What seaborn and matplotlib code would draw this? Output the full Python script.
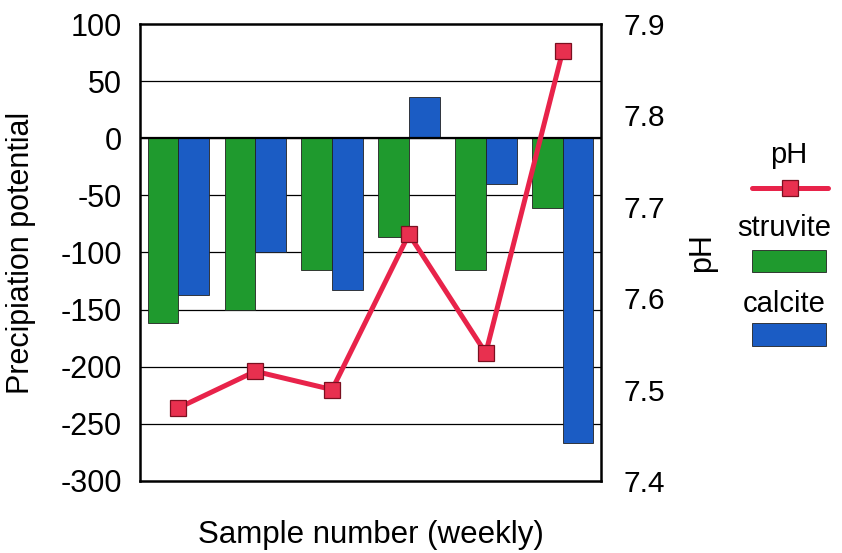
import numpy as np
import pandas as pd
import matplotlib
matplotlib.use("Agg")
import matplotlib.pyplot as plt
from matplotlib.lines import Line2D
from matplotlib.patches import Rectangle
import seaborn as sns

# Weekly samples
samples = ["1", "2", "3", "4", "5", "6"]
struvite = [-162, -150, -115, -86, -115, -61]
calcite = [-137, -100, -133, 36, -40, -267]
ph = [7.48, 7.52, 7.50, 7.67, 7.54, 7.87]

left_ticks = [100, 50, 0, -50, -100, -150, -200, -250, -300]
right_ticks = [7.4, 7.5, 7.6, 7.7, 7.8, 7.9]

green = "#1f9a2e"
blue = "#1b5cc4"
red = "#e8234a"

sns.set_theme(style="white")
plt.rcParams["font.family"] = ["Liberation Sans", "DejaVu Sans"]
plt.rcParams["text.color"] = "black"
plt.rcParams["axes.labelcolor"] = "black"
plt.rcParams["ytick.color"] = "black"
plt.rcParams["xtick.color"] = "black"

df = pd.DataFrame({
    "sample": samples * 2,
    "mineral": ["struvite"] * len(samples) + ["calcite"] * len(samples),
    "value": struvite + calcite,
})

fig = plt.figure(figsize=(8.42, 5.53), dpi=100)
ax = fig.add_axes([0.1663, 0.1302, 0.5475, 0.8264])

for v in left_ticks[1:-1]:
    ax.axhline(v, color="black", lw=0.9, zorder=0)

sns.barplot(data=df, x="sample", y="value", hue="mineral",
            palette={"struvite": green, "calcite": blue},
            width=0.8, edgecolor="#222222", linewidth=0.6,
            saturation=1, ax=ax, legend=False, zorder=2)
ax.axhline(0, color="black", lw=1.6, zorder=3)

ax.set_ylim(-300, 100)
ax.set_xlim(-0.5, len(samples) - 0.5)
ax.set_yticks(left_ticks)
ax.set_yticklabels([str(t) for t in left_ticks], fontsize=22)
ax.set_xticks([])
ax.set_xlabel("Sample number (weekly)", fontsize=22.5)
ax.set_ylabel("Precipiation potential", fontsize=22)
ax.xaxis.set_label_coords(0.5, -0.085)
ax.yaxis.set_label_coords(-0.226, 0.5)
ax.tick_params(axis="y", length=0, pad=13)
for s in ax.spines.values():
    s.set_color("black")
    s.set_linewidth(1.8)

ax2 = ax.twinx()
sns.lineplot(x=np.arange(len(samples)), y=ph, ax=ax2, color=red, lw=3.6,
             marker="s", markersize=12, markerfacecolor="#e8304f",
             markeredgecolor="#7a1020", markeredgewidth=0.9, zorder=5)
ax2.set_ylim(7.4, 7.9)
ax2.set_yticks(right_ticks)
ax2.set_yticklabels([f"{t:.1f}" for t in right_ticks], fontsize=21.5)
ax2.tick_params(axis="y", length=0, pad=16)
ax2.set_ylabel("pH", fontsize=22)
ax2.yaxis.set_label_coords(1.187, 0.5)
for s in ax2.spines.values():
    s.set_visible(False)

# Legend built as stacked captions above each key
def fx(px):
    return px / 842

def fy(py):
    return 1 - py / 553

fig.text(fx(789), fy(155), "pH", ha="center", va="center", fontsize=21)
fig.add_artist(Line2D([fx(752), fx(828)], [fy(188), fy(188)], color=red, lw=3.6,
                      transform=fig.transFigure))
fig.add_artist(Line2D([fx(790)], [fy(188)], marker="s", markersize=12,
                      markerfacecolor="#e8304f", markeredgecolor="#7a1020",
                      markeredgewidth=0.9, transform=fig.transFigure))
fig.text(fx(784), fy(228), "struvite", ha="center", va="center", fontsize=21)
fig.add_artist(Rectangle((fx(752), fy(272)), fx(74), 22 / 553, facecolor=green,
                         edgecolor="#222222", lw=0.6, transform=fig.transFigure))
fig.text(fx(784), fy(304), "calcite", ha="center", va="center", fontsize=21)
fig.add_artist(Rectangle((fx(752), fy(346)), fx(74), 23 / 553, facecolor=blue,
                         edgecolor="#222222", lw=0.6, transform=fig.transFigure))

fig.savefig("out.png", dpi=100)
